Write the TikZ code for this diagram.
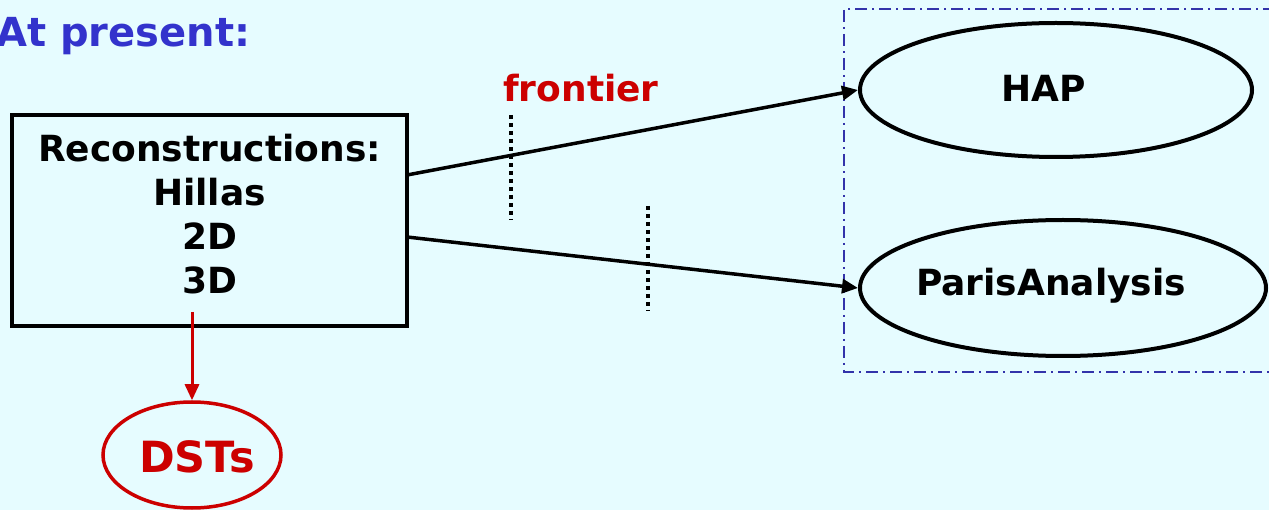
\documentclass[tikz,border=0pt]{standalone}
\usepackage{fontspec}
\setmainfont{DejaVu Sans}
\usetikzlibrary{shapes.geometric,arrows.meta}
\definecolor{bg}{HTML}{E6FCFF}
\definecolor{titleblue}{HTML}{3333CC}
\definecolor{darkred}{HTML}{CC0000}
\definecolor{framecol}{HTML}{3333AA}
\tikzset{
  txt/.style={font=\bfseries\fontsize{36}{44}\selectfont, align=center, inner sep=0pt},
  oval/.style={ellipse, draw=black, line width=4pt, minimum width=392pt, minimum height=134pt, inner sep=0pt},
  conn/.style={line width=3.5pt, -{Triangle[length=16pt,width=14pt]}},
  frontierline/.style={line width=4pt, dash pattern=on 4pt off 4pt},
}
\begin{document}
\begin{tikzpicture}[x=1pt,y=-1pt]
\fill[bg] (0,0) rectangle (1269,510);
\useasboundingbox (0,0) rectangle (1269,510);
% title
\node[txt, font=\bfseries\fontsize{40}{48}\selectfont, text=titleblue, anchor=base west] (title) at (-4,47) {At present:};
% frame
\draw[framecol, line width=1.5pt, dash pattern=on 12pt off 5pt on 2pt off 5pt] (1275,9) -- (844,9) -- (844,372) -- (1275,372);
% box
\node[draw=black, line width=4pt, minimum width=395pt, minimum height=211pt, inner sep=0pt] (rec) at (209.5,220.5) {};
\node[txt] (rectext) at (209.5,214) {Reconstructions:\\Hillas\\2D\\3D};
% ellipses
\node[oval, fill=bg] (hap) at (1056,90) {};
\node[txt] at (1044,88) {HAP};
\node[oval, minimum width=406pt, minimum height=136pt, fill=bg] (paris) at (1063,288) {};
\node[txt] at (1051,286) {ParisAnalysis};
\node[ellipse, draw=darkred, line width=3.5pt, minimum width=178pt, minimum height=106pt, inner sep=0pt] (dst) at (192,455) {};
\node[txt, font=\bfseries\fontsize{43}{50}\selectfont, text=darkred] at (197,457) {DSTs};
% frontier
\node[txt, text=darkred] (front) at (581,88) {frontier};
\coordinate (f1a) at (511,115);
\coordinate (f1b) at (511,220);
\coordinate (f2a) at (648,206);
\coordinate (f2b) at (648,311);
\draw[frontierline] (f1a) -- (f1b);
\draw[frontierline] (f2a) -- (f2b);
% connectors
\coordinate (s1) at (407,175);
\coordinate (s2) at (407,237);
\draw[conn] (s1) -- (hap.west);
\draw[conn] (s2) -- (paris.west);
\coordinate (d0) at (192,312);
\draw[darkred, line width=3pt, -{Triangle[length=16pt,width=14pt]}] (d0) -- (dst.north);
\end{tikzpicture}
\end{document}
